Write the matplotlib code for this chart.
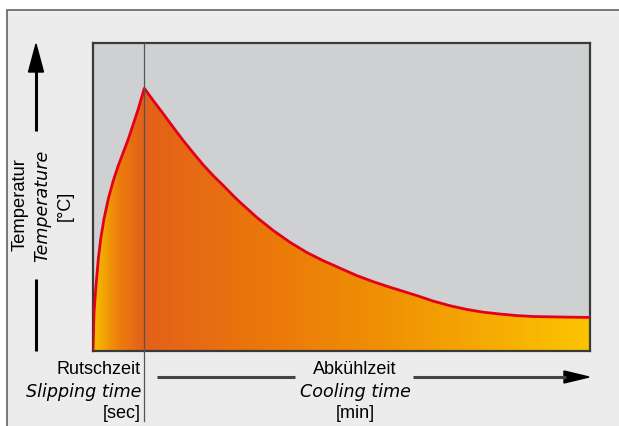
import numpy as np
import matplotlib
matplotlib.use("Agg")
import matplotlib.pyplot as plt
from matplotlib.colors import LinearSegmentedColormap
from matplotlib.patches import Polygon, Rectangle

plt.rcParams['font.family'] = ['Liberation Sans', 'DejaVu Sans']

# Data (normalised: time 0..100 across plot width, temperature 0..100 of plot height)
rise_time = [0, 0.20, 0.60, 1.07, 1.55, 2.21, 3.08, 4.08, 5.09, 6.10, 7.10, 8.11, 9.11, 10.32]
rise_temp = [0, 12.4, 21.2, 29.9, 36.4, 42.9, 49.4, 55.3, 60.2, 64.5, 68.8, 73.7, 78.6, 85.3]
cool_time = [10.32, 12.13, 14.14, 16.16, 18.17, 20.18, 22.19, 24.21, 26.22, 28.23,
             29.58, 32.94, 36.28, 39.64, 43.00, 46.34, 49.70, 53.06, 56.40, 59.76,
             61.77, 65.13, 68.47, 71.83, 75.19, 78.53, 81.89, 85.25, 88.59, 95.31, 100]
cool_temp = [85.3, 81.3, 77.0, 72.6, 68.3, 64.3, 60.4, 56.9, 53.7, 50.4,
             48.3, 43.4, 39.1, 35.3, 32.0, 29.3, 26.9, 24.5, 22.5, 20.7,
             19.7, 18.0, 16.2, 14.7, 13.5, 12.6, 12.0, 11.5, 11.2, 11.0, 10.9]
peak_time = 10.32

y_labels = ["Temperatur", "Temperature", "[°C]"]
x_left_labels = ["Rutschzeit", "Slipping time", "[sec]"]
x_right_labels = ["Abkühlzeit", "Cooling time", "[min]"]

W, H = 619, 427
fig = plt.figure(figsize=(W / 100, H / 100), dpi=100)
fig.patch.set_facecolor('white')

# background frame
bg = fig.add_axes([0, 0, 1, 1], zorder=0)
bg.set_xlim(0, W); bg.set_ylim(H, 0); bg.axis('off')
bg.add_patch(Rectangle((7, 11), W, H, facecolor='#ebeceb', edgecolor='#6e6e6e', lw=1.3))

# main plot area
L, R, T, B = 93, 590, 44, 352
ax = fig.add_axes([L / W, (H - B) / H, (R - L) / W, (B - T) / H], zorder=1)
ax.set_xlim(0, 100)
ax.set_ylim(0, 100)
ax.set_facecolor('#cfd0d2')
for s in ax.spines.values():
    s.set_color('#3a3a3a')
    s.set_linewidth(1.6)
ax.set_xticks([])
ax.set_yticks([])

curve_t = rise_time + cool_time[1:]
curve_T = rise_temp + cool_temp[1:]
poly_pts = list(zip(curve_t, curve_T)) + [(100, 0), (0, 0)]
poly = Polygon(poly_pts, closed=True, facecolor='none', edgecolor='none', transform=ax.transData)
ax.add_patch(poly)

cmap = LinearSegmentedColormap.from_list('heat', [
    (0.0, '#f9bd00'), (0.05, '#ec7d0c'), (0.10, '#e3601a'),
    (0.35, '#eb780a'), (0.6, '#f09205'), (1.0, '#fcc400')])
grad = np.linspace(0, 1, 500).reshape(1, -1)
im = ax.imshow(grad, extent=[0, 100, 0, 100], aspect='auto', cmap=cmap,
               origin='lower', zorder=1)
im.set_clip_path(poly)

ax.plot(curve_t, curve_T, color='#e2001a', lw=2.0, zorder=3,
        solid_joinstyle='round', solid_capstyle='butt')

# overlay in pixel coords
ov = fig.add_axes([0, 0, 1, 1], zorder=2)
ov.set_xlim(0, W); ov.set_ylim(H, 0); ov.axis('off')
ov.patch.set_visible(False)

px_peak = L + peak_time / 100 * (R - L)
ov.plot([px_peak, px_peak], [T, 422], color='#555555', lw=0.9)

# y arrow
ov.plot([36, 36], [70, 132], color='black', lw=2.2, solid_capstyle='butt')
ov.add_patch(Polygon([(36, 45), (28.5, 73), (43.5, 73)], closed=True, color='black'))
ov.plot([36, 36], [280, 352], color='black', lw=2.2, solid_capstyle='butt')

fs = 13
ifam = ['DejaVu Sans']
ifs = 12.6
ov.text(20.5, 205, y_labels[0], rotation=90, ha='center', va='center', fontsize=13.2)
ov.text(42.5, 206, y_labels[1], rotation=90, ha='center', va='center', fontsize=ifs,
        style='italic', family=ifam)
ov.text(65, 206, y_labels[2], rotation=90, ha='center', va='center', fontsize=fs)

# x labels
ys = [370, 392, 414]
for i, (a, b) in enumerate(zip(x_left_labels, x_right_labels)):
    if i == 1:
        kw = dict(fontsize=ifs, style='italic', family=ifam)
    else:
        kw = dict(fontsize=fs)
    ov.text(141, ys[i], a, ha='right', va='center', **kw)
    ov.text(355, ys[i], b, ha='center', va='center', **kw)

# x arrow
ov.plot([157, 295], [378, 378], color='#444444', lw=2.2, solid_capstyle='butt')
ov.plot([413, 566], [378, 378], color='#444444', lw=2.2, solid_capstyle='butt')
ov.add_patch(Polygon([(589, 378), (564, 372), (564, 384)], closed=True, color='black'))

fig.savefig('out.png', dpi=100, facecolor='white')
